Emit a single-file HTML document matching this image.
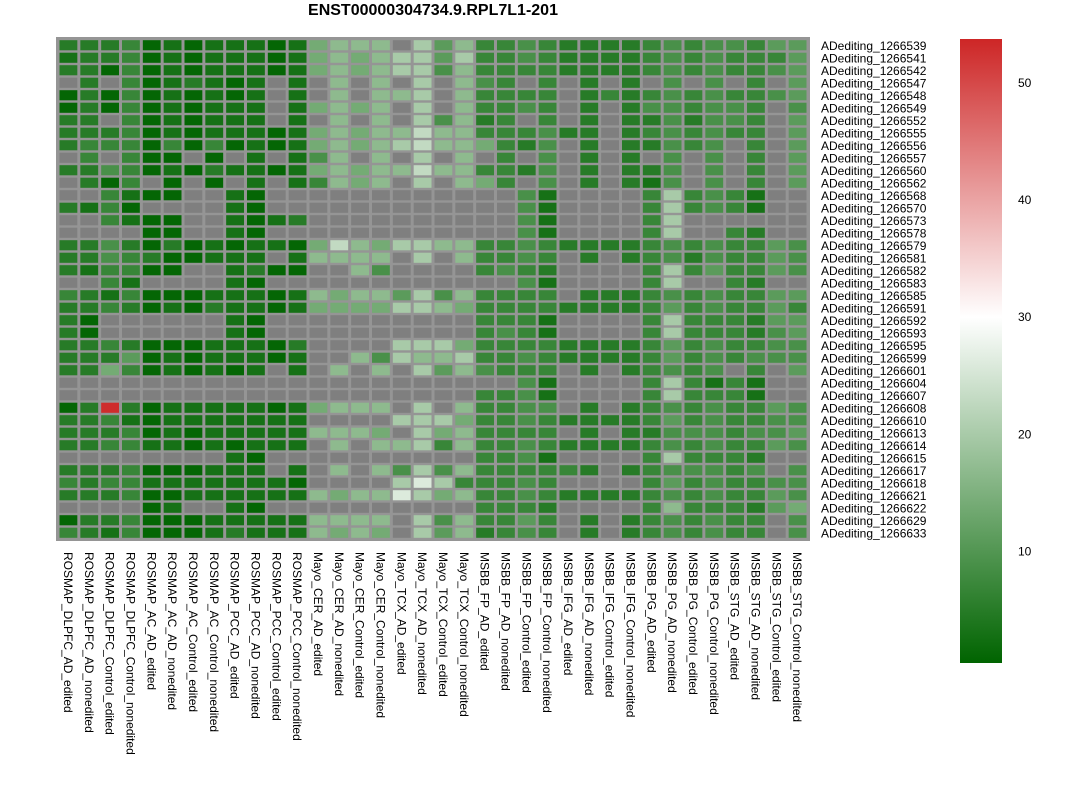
<!DOCTYPE html>
<html><head><meta charset="utf-8"><style>
body{margin:0;background:#fff;width:1066px;height:791px;overflow:hidden;font-family:"Liberation Sans",sans-serif}
svg text{font-family:"Liberation Sans",sans-serif}
</style></head><body>
<svg id="chart" width="1066" height="791" xmlns="http://www.w3.org/2000/svg">
<text x="433" y="15" text-anchor="middle" font-size="16" font-weight="bold">ENST00000304734.9.RPL7L1-201</text>
<rect x="56" y="37" width="754" height="504" fill="#959595"/>
<g id="cells"></g>
<g id="rowlabels"></g>
<g id="collabels"></g>
<defs><linearGradient id="cbg" x1="0" y1="1" x2="0" y2="0">
<stop offset="0" stop-color="#006400"/><stop offset="0.554" stop-color="#ffffff"/><stop offset="1" stop-color="#cd2626"/></linearGradient></defs>
<rect x="960" y="39" width="42" height="624" fill="url(#cbg)"/>
<g id="cbticks"></g>
</svg>
<script>
const rowNames=["1266539","1266541","1266542","1266547","1266548","1266549","1266552","1266555","1266556","1266557","1266560","1266562","1266568","1266570","1266573","1266578","1266579","1266581","1266582","1266583","1266585","1266591","1266592","1266593","1266595","1266599","1266601","1266604","1266607","1266608","1266610","1266613","1266614","1266615","1266617","1266618","1266621","1266622","1266629","1266633"];
const colNames=["ROSMAP_DLPFC_AD_edited","ROSMAP_DLPFC_AD_nonedited","ROSMAP_DLPFC_Control_edited","ROSMAP_DLPFC_Control_nonedited","ROSMAP_AC_AD_edited","ROSMAP_AC_AD_nonedited","ROSMAP_AC_Control_edited","ROSMAP_AC_Control_nonedited","ROSMAP_PCC_AD_edited","ROSMAP_PCC_AD_nonedited","ROSMAP_PCC_Control_edited","ROSMAP_PCC_Control_nonedited","Mayo_CER_AD_edited","Mayo_CER_AD_nonedited","Mayo_CER_Control_edited","Mayo_CER_Control_nonedited","Mayo_TCX_AD_edited","Mayo_TCX_AD_nonedited","Mayo_TCX_Control_edited","Mayo_TCX_Control_nonedited","MSBB_FP_AD_edited","MSBB_FP_AD_nonedited","MSBB_FP_Control_edited","MSBB_FP_Control_nonedited","MSBB_IFG_AD_edited","MSBB_IFG_AD_nonedited","MSBB_IFG_Control_edited","MSBB_IFG_Control_nonedited","MSBB_PG_AD_edited","MSBB_PG_AD_nonedited","MSBB_PG_Control_edited","MSBB_PG_Control_nonedited","MSBB_STG_AD_edited","MSBB_STG_AD_nonedited","MSBB_STG_Control_edited","MSBB_STG_Control_nonedited"];
const colorTicks=[10,20,30,40,50];
const values=[
[5,5,5,7,1,3,1,3,3,3,1,3,14,17,17,17,null,20,11,17,7,7,9,7,5,5,5,5,7,9,7,9,9,7,11,11],
[3,5,5,7,1,3,1,3,3,3,1,3,14,17,14,17,20,20,11,20,7,7,9,7,5,5,5,5,7,9,7,9,7,7,7,11],
[5,5,1,7,1,3,1,3,3,3,1,3,14,17,14,17,20,20,9,17,7,7,7,7,5,5,5,5,7,9,7,9,7,7,9,11],
[null,5,null,7,1,3,5,3,1,3,null,3,null,17,null,17,null,20,null,17,9,7,null,7,null,5,null,5,null,9,null,9,null,7,null,11],
[1,5,1,7,1,3,1,3,1,3,null,3,null,17,null,17,17,20,null,17,7,7,7,7,null,5,7,5,7,9,7,9,7,7,9,11],
[1,5,1,7,1,3,1,3,3,3,null,3,14,17,14,17,null,20,null,17,7,7,9,7,null,5,null,5,9,9,7,9,9,7,null,9],
[5,5,null,7,1,3,1,3,3,3,null,3,null,17,null,17,null,20,9,17,5,7,null,7,null,5,null,5,5,9,5,9,9,7,null,11],
[5,5,5,7,1,3,1,3,3,3,1,3,14,17,14,17,17,23,17,17,7,7,7,9,5,5,null,5,7,9,7,9,7,7,null,11],
[5,7,7,7,1,7,1,7,1,3,1,3,14,17,14,17,20,23,17,17,14,7,5,9,null,5,null,5,5,9,7,9,null,7,null,11],
[null,7,null,7,1,1,null,1,null,3,null,3,9,17,null,17,null,20,null,17,null,7,null,9,null,5,null,5,null,9,null,9,null,7,null,11],
[5,5,9,7,1,3,1,5,3,3,1,3,14,17,14,17,17,23,17,17,7,7,5,9,null,5,null,5,5,9,null,9,null,7,null,11],
[null,5,1,7,null,1,null,1,null,3,null,3,7,17,14,17,null,20,null,17,14,7,null,9,null,5,null,5,3,9,null,9,null,7,null,11],
[null,null,7,3,1,1,null,null,3,1,null,null,null,null,null,null,null,null,null,null,null,null,9,3,null,null,null,null,7,20,7,9,7,3,null,null],
[5,3,7,1,null,null,null,null,3,1,null,null,null,null,null,null,null,null,null,null,null,null,9,3,null,null,null,null,7,20,7,9,7,3,null,null],
[null,null,7,3,1,1,null,null,3,1,3,5,null,null,null,null,null,null,null,null,null,null,9,3,null,null,null,null,7,20,null,null,null,null,null,null],
[null,null,null,null,1,1,null,null,3,1,null,null,null,null,null,null,null,null,null,null,null,null,9,3,null,null,null,null,7,20,null,null,7,5,null,null],
[5,5,9,5,1,5,1,3,1,3,3,1,14,23,17,14,20,20,17,17,7,7,9,7,5,5,5,5,7,9,7,9,7,7,11,9],
[5,5,9,7,5,1,1,3,3,3,null,3,17,17,17,17,null,20,null,17,7,7,9,7,null,5,null,5,7,9,5,9,7,7,11,9],
[5,3,7,7,1,1,null,null,3,5,1,1,null,null,17,9,null,null,null,null,7,9,7,5,null,null,null,null,7,20,7,11,7,7,11,9],
[null,null,7,3,null,null,null,null,3,1,null,null,null,null,null,null,null,null,null,null,null,null,9,3,null,null,null,null,7,20,null,null,7,5,null,null],
[7,5,3,7,1,1,1,3,3,3,1,3,17,14,17,17,11,20,9,17,7,7,7,7,null,5,5,5,7,9,7,9,7,7,11,11],
[5,5,7,5,1,3,1,5,3,3,1,3,14,14,14,14,20,20,17,14,7,7,7,7,5,5,5,5,7,11,7,9,7,7,11,7],
[5,1,null,null,null,null,null,null,3,1,null,null,null,null,null,null,null,null,null,null,7,7,7,3,null,null,null,null,7,20,7,7,7,5,11,11],
[5,1,null,null,null,null,null,null,3,1,null,null,null,null,null,null,null,null,null,null,7,9,7,3,null,null,null,null,7,20,7,7,7,5,9,11],
[5,5,7,5,1,1,1,3,3,3,1,5,null,null,null,null,20,20,20,14,7,7,7,7,5,5,5,5,7,11,7,9,7,7,9,9],
[5,5,5,11,1,3,1,3,3,3,1,3,null,null,17,9,20,17,17,20,7,7,9,7,5,5,5,5,7,11,7,9,7,9,9,9],
[5,5,14,7,1,3,1,3,1,3,null,3,null,17,null,17,null,20,11,17,9,7,7,7,null,5,null,5,7,9,7,9,null,7,null,11],
[null,null,null,null,null,null,null,null,null,null,null,null,null,null,null,null,null,null,null,null,null,null,9,3,null,null,null,null,7,20,7,3,7,3,null,null],
[null,null,null,null,null,null,null,null,null,null,null,null,null,null,null,null,null,null,null,null,7,7,9,3,null,null,null,null,7,20,7,7,7,3,null,null],
[1,5,53,5,1,3,3,3,3,3,1,3,14,17,17,17,null,20,null,17,7,7,9,9,null,5,null,5,7,9,7,9,7,7,11,9],
[5,5,7,3,1,3,3,3,3,3,3,3,null,null,null,null,20,20,20,14,7,7,9,7,5,5,5,5,7,11,7,9,7,7,9,9],
[5,5,5,7,1,3,1,3,3,3,3,3,17,17,17,14,null,20,14,17,7,7,7,7,null,5,null,5,5,9,9,9,7,9,9,11],
[5,5,7,7,3,3,1,3,1,3,3,3,null,17,null,17,17,20,7,17,7,7,9,7,5,5,5,5,7,9,7,9,7,7,11,9],
[null,null,null,null,null,null,null,null,3,1,null,null,null,null,null,null,null,null,null,null,7,7,9,3,null,null,null,null,7,20,7,7,7,5,null,null],
[5,5,5,7,1,1,1,3,3,3,null,3,null,17,null,17,9,20,9,17,7,7,7,7,7,5,null,5,7,9,9,9,7,9,null,9],
[7,5,7,7,3,3,3,3,3,3,3,1,null,null,null,null,20,26,20,7,7,7,9,7,null,null,null,null,7,11,7,9,7,7,9,9],
[5,5,5,7,1,1,3,3,3,3,3,3,17,14,17,17,26,20,14,17,7,7,9,7,5,5,5,5,7,9,7,9,7,7,11,9],
[null,null,null,null,1,3,null,null,3,1,null,null,null,null,null,null,null,null,null,null,7,7,7,5,null,null,null,null,7,17,7,7,7,5,11,14],
[1,5,5,7,1,1,1,3,3,3,3,3,17,17,17,17,null,20,9,17,7,7,11,7,null,5,null,5,7,9,7,9,7,7,null,9],
[7,5,3,7,1,1,1,3,5,3,3,3,17,14,17,14,null,20,11,17,5,7,9,7,null,5,null,5,7,9,7,9,7,7,null,9]
];
const NS="http://www.w3.org/2000/svg";
const X0=58,X1=808,Y0=39,Y1=539;
const cw=(X1-X0)/colNames.length, rh=(Y1-Y0)/rowNames.length;
const vmin=0.45,vmid=30,vmax=53.7;
function xPos(j){return X0+j*cw;}
function yPos(i){return Y0+i*rh;}
function color(v){
  if(v===null) return "#7f7f7f";
  let r,g,b;
  if(v<=vmid){const t=Math.max(0,(v-vmin)/(vmid-vmin));r=255*t;g=100+155*t;b=255*t;}
  else{const t=Math.min(1,(v-vmid)/(vmax-vmid));r=255-50*t;g=255-217*t;b=255-217*t;}
  return `rgb(${r|0},${g|0},${b|0})`;
}
function cbY(v){return 663-(v-vmin)/(vmax-vmin)*624;}
const cells=document.getElementById('cells');
values.forEach((row,i)=>row.forEach((v,j)=>{
  const r=document.createElementNS(NS,'rect');
  r.setAttribute('x',xPos(j)+1.5);r.setAttribute('y',yPos(i)+1.2);
  r.setAttribute('width',cw-3);r.setAttribute('height',rh-2.4);
  r.setAttribute('fill',color(v));
  
  
  cells.appendChild(r);
}));
const rl=document.getElementById('rowlabels');
rowNames.forEach((n,i)=>{
  const t=document.createElementNS(NS,'text');
  t.setAttribute('x',821);t.setAttribute('y',yPos(i)+rh/2+4.5);
  t.setAttribute('font-size','12');t.textContent='ADediting_'+n;
  
  
  rl.appendChild(t);
});
const cl=document.getElementById('collabels');
colNames.forEach((n,j)=>{
  const t=document.createElementNS(NS,'text');
  const x=xPos(j)+cw/2-4.5;
  t.setAttribute('transform',`translate(${x},552) rotate(90)`);
  t.setAttribute('font-size','12');t.textContent=n;
  
  
  cl.appendChild(t);
});
const cb=document.getElementById('cbticks');
colorTicks.forEach(v=>{
  const t=document.createElementNS(NS,'text');
  t.setAttribute('x',1018);t.setAttribute('y',cbY(v)+4.5);
  t.setAttribute('font-size','12');t.textContent=v;
  
  
  cb.appendChild(t);
});
</script>
</body></html>
